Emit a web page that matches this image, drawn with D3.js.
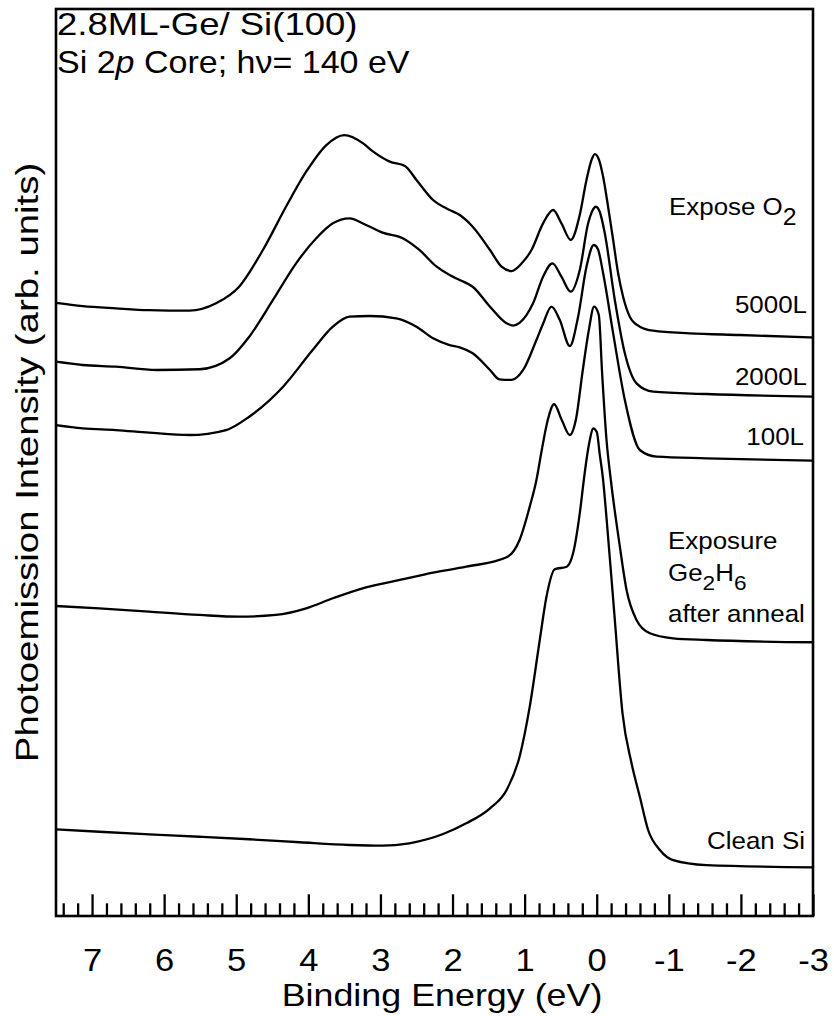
<!DOCTYPE html>
<html>
<head>
<meta charset="utf-8">
<script src="https://cdn.jsdelivr.net/npm/d3@7"></script>
<style>
  html, body { margin: 0; padding: 0; background: #fff; }
  svg { display: block; }
  text { font-family: "Liberation Sans", Arial, Helvetica, sans-serif; fill: #000; }
</style>
</head>
<body>
<svg id="chart" width="834" height="1016"></svg>
<script>
// Si 2p core-level spectra, [binding energy (eV), intensity (arb. units, offset stacked)]
const spec5000L = [
  [7.50,67.6],[7.13,67.25],[6.67,67.0],[6.21,66.8],[5.65,66.74],[5.28,67.55],[4.96,69.38],
  [4.63,73.43],[4.31,78.2],[4.03,82.06],[3.75,85.0],[3.50,86.1],[3.24,85.19],[3.10,84.27],
  [2.87,83.17],[2.66,82.69],[2.50,81.15],[2.27,78.94],[2.04,77.84],[1.90,77.29],[1.72,76.0],
  [1.48,73.43],[1.32,71.59],[1.18,71.11],[1.04,71.96],[0.905,73.43],[0.744,76.37],[0.605,77.84],
  [0.489,76.37],[0.360,74.53],[0.235,77.3],[0.142,81.15],[0.072,83.35],[0.026,84.01],
  [-0.033,83.35],[-0.089,81.51],[-0.158,78.2],[-0.228,74.53],[-0.297,70.86],[-0.366,68.28],
  [-0.459,66.08],[-0.598,64.97],[-0.783,64.53],[-1.29,64.24],[-1.99,64.06],[-3.0,63.78]
];
const spec2000L = [
  [7.50,61.11],[7.13,60.75],[6.67,60.56],[6.11,60.2],[5.51,60.28],[5.09,61.49],[4.82,63.87],
  [4.49,67.92],[4.17,71.96],[3.89,74.72],[3.66,76.37],[3.43,76.92],[3.20,76.19],[2.97,75.34],
  [2.69,74.72],[2.46,73.43],[2.22,71.59],[2.04,70.67],[1.90,70.12],[1.72,69.38],[1.48,67.18],
  [1.25,65.35],[1.16,65.1],[1.07,65.4],[0.883,67.55],[0.744,70.49],[0.614,71.96],[0.489,70.49],
  [0.360,68.83],[0.235,71.22],[0.119,76.37],[0.068,77.62],[0.012,78.2],[-0.043,77.62],
  [-0.112,75.27],[-0.251,67.92],[-0.390,62.04],[-0.552,58.73],[-0.783,57.81],[-1.52,57.55],
  [-3.0,57.26]
];
const spec100L = [
  [7.50,54.13],[7.13,53.77],[6.67,53.58],[6.21,53.29],[5.65,53.03],[5.14,53.58],[4.82,55.05],
  [4.35,58.36],[3.94,62.4],[3.66,64.97],[3.43,66.08],[3.15,66.15],[2.78,65.9],[2.50,64.97],
  [2.27,63.69],[2.04,62.95],[1.90,62.7],[1.72,62.04],[1.48,60.2],[1.35,59.17],[1.18,59.1],
  [1.02,60.2],[0.836,63.51],[0.744,65.3],[0.628,67.18],[0.512,65.71],[0.373,62.84],[0.258,66.08],
  [0.142,71.59],[0.040,73.98],[-0.016,73.54],[-0.089,70.86],[-0.228,64.24],[-0.390,56.89],
  [-0.598,51.38],[-0.830,50.64],[-1.52,50.46],[-3.0,50.2]
];
const specGe2H6 = [
  [7.50,34.18],[6.90,33.92],[6.21,33.55],[5.51,33.19],[4.96,33.0],[4.45,33.19],[4.03,33.92],
  [3.66,35.03],[3.20,36.24],[2.73,37.05],[2.27,37.85],[1.81,38.51],[1.25,39.55],
  [1.07,41.46],[0.929,45.13],[0.836,48.07],[0.762,51.38],[0.679,54.69],[0.591,56.42],
  [0.485,54.69],[0.373,53.03],[0.290,54.69],[0.193,60.2],[0.109,64.61],[0.036,67.18],
  [-0.029,66.26],[-0.075,59.83],[-0.136,52.48],[-0.196,48.07],[-0.321,40.72],[-0.414,35.94],
  [-0.552,32.64],[-0.737,31.17],[-1.06,30.62],[-1.52,30.43],[-3.0,30.18]
];
const specCleanSi = [
  [7.50,9.56],[6.90,9.29],[6.21,9.01],[5.51,8.74],[4.82,8.46],[4.12,8.13],[3.43,7.83],
  [2.97,7.75],[2.60,8.02],[2.13,9.04],[1.81,10.22],[1.48,11.87],[1.25,13.89],
  [1.07,17.56],[0.929,23.08],[0.790,30.43],[0.697,35.2],[0.582,38.23],[0.416,38.51],
  [0.328,39.99],[0.235,44.4],[0.179,48.07],[0.142,50.28],[0.096,52.48],[0.050,53.77],
  [-0.001,53.36],[-0.043,50.83],[-0.089,48.07],[-0.136,43.88],[-0.244,33.37],[-0.358,22.35],
  [-0.483,16.84],[-0.598,13.15],[-0.713,9.48],[-0.876,7.28],[-1.06,6.17],[-1.52,5.62],[-3.0,5.37]
];

// Axis ticks (binding energy, eV)
const majorTicks = [7, 6, 5, 4, 3, 2, 1, 0, -1, -2, -3];
const tickLabels = ["7", "6", "5", "4", "3", "2", "1", "0", "-1", "-2", "-3"];
const energyDomain = [7.5, -3];
const intensityDomain = [0, 100];

const plot = { left: 56, right: 813, top: 9, bottom: 916 };

const svg = d3.select("#chart");
const x = d3.scaleLinear().domain(energyDomain).range([plot.left, plot.right]);
const y = d3.scaleLinear().domain(intensityDomain).range([plot.bottom, plot.top]);

// place a text, widened around its anchor
function stretchedText(parent, px, py, sx, opts = {}) {
  const rot = opts.rotate ? ` rotate(${opts.rotate})` : "";
  return parent.append("text")
    .attr("transform", `translate(${px},${py})${rot} scale(${sx},1)`)
    .attr("text-anchor", opts.anchor || "start")
    .attr("font-size", opts.size || 24);
}

// spectra
const line = d3.line()
  .x(d => x(d[0]))
  .y(d => y(d[1]))
  .curve(d3.curveMonotoneX);

const spectra = [spec5000L, spec2000L, spec100L, specGe2H6, specCleanSi];
svg.append("g")
  .selectAll("path")
  .data(spectra)
  .join("path")
  .attr("d", d => line(d))
  .attr("fill", "none")
  .attr("stroke", "#000")
  .attr("stroke-width", 2.3)
  .attr("stroke-linejoin", "round");

// minor ticks every 0.2 eV
const minorTicks = d3.range(-30, 76, 2).map(v => v / 10)
  .filter(v => Math.abs(v - Math.round(v)) > 1e-6);

svg.append("g")
  .attr("transform", `translate(0,${plot.bottom})`)
  .call(d3.axisBottom(x).tickValues(minorTicks).tickSizeInner(-12.7).tickSizeOuter(0).tickFormat(""))
  .call(g => g.select(".domain").remove())
  .call(g => g.selectAll(".tick line").attr("stroke", "#000").attr("stroke-width", 2.3));

const major = svg.append("g")
  .attr("transform", `translate(0,${plot.bottom})`)
  .call(d3.axisBottom(x).tickValues(majorTicks).tickSizeInner(-21.7).tickSizeOuter(0)
    .tickFormat((d, i) => tickLabels[i]))
  .call(g => g.select(".domain").remove())
  .call(g => g.selectAll(".tick line").attr("stroke", "#000").attr("stroke-width", 2.3));

major.selectAll(".tick text")
  .attr("y", 0).attr("dy", null)
  .attr("transform", "translate(0,55) scale(1.08,1)")
  .attr("font-size", 32)
  .attr("font-family", null)
  .attr("fill", "#000");

// frame
svg.append("rect")
  .attr("x", plot.left).attr("y", plot.top)
  .attr("width", plot.right - plot.left).attr("height", plot.bottom - plot.top)
  .attr("fill", "none").attr("stroke", "#000").attr("stroke-width", 2.6);

// axis titles
stretchedText(svg, 442, 1006, 1.12, { anchor: "middle", size: 32 }).text("Binding Energy (eV)");
stretchedText(svg, 38, (plot.top + plot.bottom) / 2, 1.2, { anchor: "middle", size: 32, rotate: -90 })
  .text("Photoemission Intensity (arb. units)");

// sample description
stretchedText(svg, 57, 35, 1.16, { size: 31.5 }).text("2.8ML-Ge/ Si(100)");
const t2 = stretchedText(svg, 57, 73, 1.08, { size: 31.5 });
t2.append("tspan").text("Si 2");
t2.append("tspan").attr("font-style", "italic").text("p");
t2.append("tspan").text(" Core; h\u03bd= 140 eV");

// curve labels
const lab = svg.append("g");
const o2 = stretchedText(lab, 669, 215, 1.08, { size: 24 });
o2.append("tspan").text("Expose O");
o2.append("tspan").attr("dy", 10).attr("font-size", 23).text("2");

stretchedText(lab, 807, 313, 1.08, { anchor: "end", size: 24 }).text("5000L");
stretchedText(lab, 807, 385, 1.08, { anchor: "end", size: 24 }).text("2000L");
stretchedText(lab, 804, 445, 1.08, { anchor: "end", size: 24 }).text("100L");

stretchedText(lab, 668, 549, 1.08, { size: 24 }).text("Exposure");
const ge = stretchedText(lab, 668, 581, 1.08, { size: 24 });
ge.append("tspan").text("Ge");
ge.append("tspan").attr("dy", 9).attr("font-size", 21).text("2");
ge.append("tspan").attr("dy", -9).text("H");
ge.append("tspan").attr("dy", 9).attr("font-size", 21).text("6");
stretchedText(lab, 668, 622, 1.08, { size: 24 }).text("after anneal");

stretchedText(lab, 805, 849, 1.08, { anchor: "end", size: 24 }).text("Clean Si");
</script>
</body>
</html>
